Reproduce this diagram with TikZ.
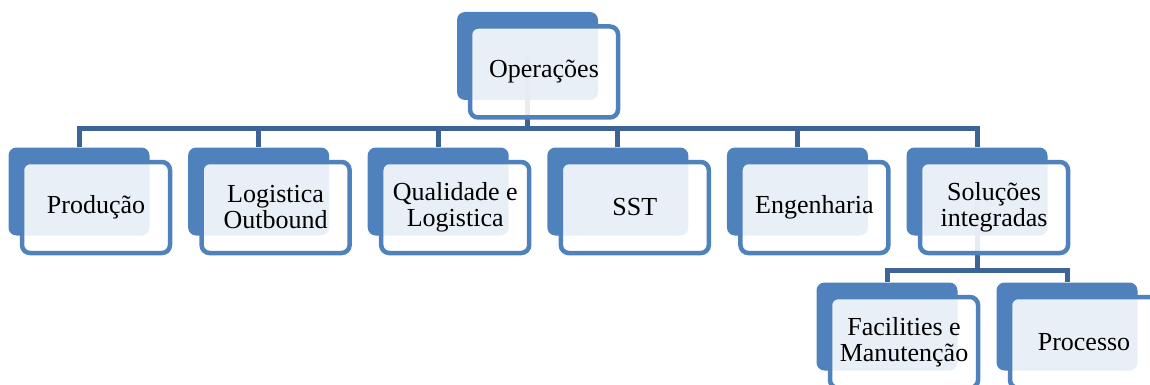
\documentclass[tikz,border=0pt]{standalone}
\usepackage{fontspec}
\setmainfont{Liberation Serif}
\definecolor{bk}{RGB}{79,129,189}
\definecolor{busc}{RGB}{62,100,150}
\begin{document}
\begin{tikzpicture}[x=1pt,y=-1pt,
  backbox/.style={rectangle,rounded corners=8pt,fill=bk,minimum width=141pt,minimum height=88pt,inner sep=0pt},
  frontbox/.style={rectangle,rounded corners=8pt,draw=bk,line width=4.5pt,fill=white,fill opacity=0.88,text opacity=1,
     minimum width=148pt,minimum height=91pt,inner sep=0pt,align=center,font=\fontsize{26}{26}\selectfont},
  bus/.style={draw=busc,line width=5pt}]
\clip (0,0) rectangle (1150,385);
% back boxes
\node[backbox] (opB) at (527.5,56) {};
\node[backbox] (b1B) at (79,191.5) {};
\node[backbox] (b2B) at (258.6,191.5) {};
\node[backbox] (b3B) at (438.2,191.5) {};
\node[backbox] (b4B) at (617.8,191.5) {};
\node[backbox] (b5B) at (797.4,191.5) {};
\node[backbox] (b6B) at (977,191.5) {};
\node[backbox] (c1B) at (887,326.5) {};
\node[backbox] (c2B) at (1067,326.5) {};
% connectors
\coordinate (busL) at (79,128);
\coordinate (busR) at (977,128);
\coordinate (sbL) at (887,270);
\coordinate (sbR) at (1067,270);
\draw[bus] (opB.center) -- (opB.center |- busL);
\draw[bus] (b1B.north) -- (busL) -- (busR) -- (b6B.north);
\foreach \n in {b2B,b3B,b4B,b5B} \draw[bus] (\n.north) -- (\n.north |- busL);
\draw[bus] (b6B.center) -- (b6B.center |- sbL);
\draw[bus] (c1B.north) -- (sbL) -- (sbR) -- (c2B.north);
% front boxes
\node[frontbox] (op) at ([shift={(16.5,16)}]opB.center) {Operações};
\node[frontbox] (b1) at ([shift={(17,16)}]b1B.center) {Produção};
\node[frontbox] (b2) at ([shift={(17,16)}]b2B.center) {Logistica\\Outbound};
\node[frontbox] (b3) at ([shift={(17,16)}]b3B.center) {Qualidade e\\Logistica};
\node[frontbox] (b4) at ([shift={(17,16)}]b4B.center) {SST};
\node[frontbox] (b5) at ([shift={(17,16)}]b5B.center) {Engenharia};
\node[frontbox] (b6) at ([shift={(17,16)}]b6B.center) {Soluções\\integradas};
\node[frontbox] (c1) at ([shift={(17,16)}]c1B.center) {Facilities e\\Manutenção};
\node[frontbox] (c2) at ([shift={(17,16)}]c2B.center) {Processo};
\end{tikzpicture}
\end{document}
